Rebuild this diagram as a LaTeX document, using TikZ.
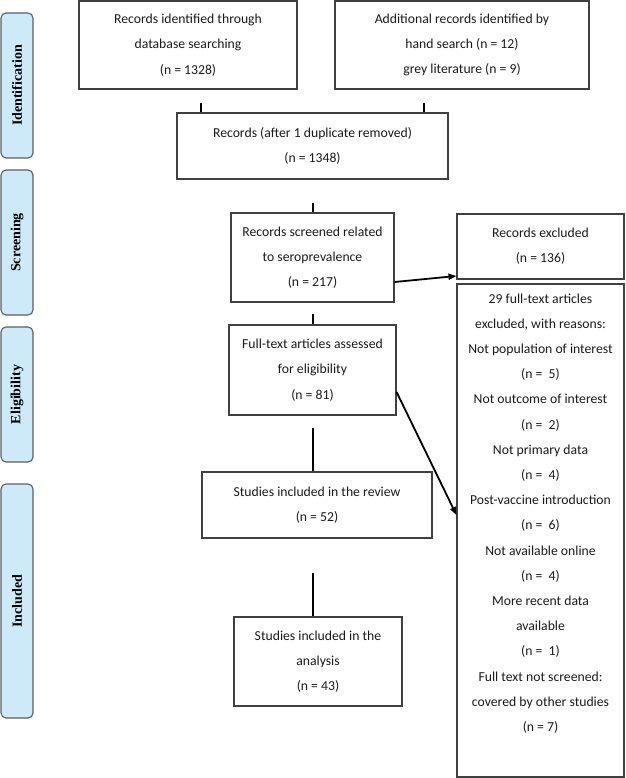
\documentclass[tikz,border=0pt]{standalone}
\usepackage{fontspec}
\setmainfont{Carlito}
\newfontfamily\sidefont{Liberation Serif}
\usetikzlibrary{arrows.meta}
\definecolor{sidefill}{HTML}{CDEAF8}
\definecolor{sideline}{HTML}{5A5F66}
\definecolor{boxline}{HTML}{404040}
\definecolor{txt}{HTML}{1A1A1A}
\tikzset{
  flowbox/.style={draw=boxline, line width=1.1pt, rectangle, align=center, inner sep=0pt,
    text=txt, font=\fontsize{13.7}{25.2}\selectfont},
  sidebox/.style={draw=sideline, fill=sidefill, line width=1.1pt, rounded corners=5pt,
    rotate=90, minimum height=32pt, inner sep=0pt,
    font=\sidefont\bfseries\fontsize{14}{17}\selectfont},
  stub/.style={line width=1.8pt, black},
  arr/.style={line width=1.8pt, black, -{Triangle[length=8pt,width=6pt]}}
}
\begin{document}
\begin{tikzpicture}[x=1pt,y=-1pt]
\useasboundingbox (0,0) rectangle (625,778);
% side labels
\node[sidebox, minimum width=145pt] (sid) at (17,85.5) {Identification};
\node[sidebox, minimum width=145pt] (sscr) at (17,242.5) {Screening};
\node[sidebox, minimum width=135pt] (selg) at (17,394.5) {Eligibility};
\node[sidebox, minimum width=234pt] (sinc) at (17,601) {Included};
% boxes
\node[flowbox, minimum width=218pt, minimum height=88pt] (A) at (188,45)
  {Records identified through\\database searching\\(n = 1328)};
\node[flowbox, minimum width=254pt, minimum height=88pt] (B) at (462,45)
  {Additional records identified by\\hand search (n = 12)\\grey literature (n = 9)};
\node[flowbox, minimum width=271pt, minimum height=66pt] (C) at (312.5,146)
  {Records (after 1 duplicate removed)\\(n = 1348)};
\node[flowbox, minimum width=163pt, minimum height=89pt] (D) at (312.5,257.5)
  {Records screened related\\to seroprevalence\\(n = 217)};
\node[flowbox, minimum width=167pt, minimum height=90pt] (E) at (312.5,370)
  {Full-text articles assessed\\for eligibility\\(n = 81)};
\node[flowbox, minimum width=230pt, minimum height=66pt] (F) at (317,505)
  {Studies included in the review\\(n = 52)};
\node[flowbox, minimum width=168pt, minimum height=89pt] (G) at (318,661.5)
  {Studies included in the\\analysis\\(n = 43)};
\node[flowbox, minimum width=167pt, minimum height=65pt] (H) at (540.5,246.5)
  {Records excluded\\(n = 136)};
\node[flowbox, minimum width=167pt, minimum height=493pt] (I) at (540.5,530.5) {};
\node[flowbox, draw=none, anchor=north] (Itext) at (540.5,293)
  {29 full-text articles\\excluded, with reasons:\\Not population of interest\\(n =\ \ 5)\\Not outcome of interest\\(n =\ \ 2)\\Not primary data\\(n =\ \ 4)\\Post-vaccine introduction\\(n =\ \ 6)\\Not available online\\(n =\ \ 4)\\More recent data\\available\\(n =\ \ 1)\\Full text not screened:\\covered by other studies\\(n = 7)};
% connectors
\coordinate (a1) at (201,103);
\coordinate (b1) at (424,103);
\draw[stub] (a1) -- (a1 |- C.north);
\draw[stub] (b1) -- (b1 |- C.north);
\coordinate (c1) at (313,203);
\draw[stub] (c1) -- (c1 |- D.north);
\coordinate (d1) at (313,314);
\draw[stub] (d1) -- (d1 |- E.north);
\coordinate (e1) at (313,428);
\draw[stub] (e1) -- (e1 |- F.north);
\coordinate (f1) at (313,573);
\draw[stub] (f1) -- (f1 |- G.north);
\draw[arr] ([yshift=-24.5pt]D.east) -- ([yshift=-29.5pt]H.west);
\draw[arr] ([yshift=-22pt]E.east) -- ([yshift=15.5pt]I.west);
\end{tikzpicture}
\end{document}
